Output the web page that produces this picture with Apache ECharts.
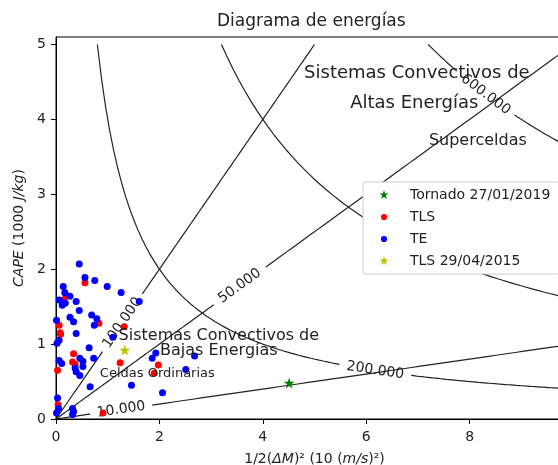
<!DOCTYPE html>
<html>
<head>
<meta charset="utf-8">
<script src="https://cdn.jsdelivr.net/npm/echarts@6/dist/echarts.min.js"></script>
<style>
  html, body { margin: 0; padding: 0; background: #fff; }
  #chart { width: 558px; height: 465px; }
</style>
</head>
<body>
<div id="chart"></div>
<script>
// ---- data ----
const tornado = [[4.51, 0.48]];
const tls2015 = [[1.33, 0.92]];

const tls = [
    [0.56, 1.82], [0.19, 1.66], [0.15, 1.59], [0.06, 1.25], [0.08, 1.15], [0.09, 1.13],
    [0.83, 1.28], [1.32, 1.23], [0.34, 0.87], [0.32, 0.76], [0.37, 0.73], [0.03, 0.65],
    [1.24, 0.75], [1.98, 0.72], [1.90, 0.61], [0.04, 0.19], [0.91, 0.08]
];

const te = [
    [0.45, 2.07], [0.56, 1.89], [0.75, 1.85], [0.99, 1.77], [1.26, 1.69], [1.61, 1.57],
    [0.14, 1.77], [0.17, 1.69], [0.27, 1.64], [0.06, 1.59], [0.14, 1.54], [0.12, 1.52],
    [0.18, 1.55], [0.39, 1.57], [0.45, 1.45], [0.27, 1.36], [0.34, 1.30], [0.69, 1.39],
    [0.79, 1.34], [0.74, 1.25], [0.39, 1.14], [0.01, 1.32], [0.06, 1.05], [0.02, 1.01],
    [1.10, 1.09], [0.64, 0.95], [0.73, 0.81], [0.46, 0.81], [0.52, 0.77], [0.06, 0.78],
    [0.11, 0.74], [0.37, 0.68], [0.39, 0.63], [0.52, 0.70], [0.46, 0.58], [0.66, 0.43],
    [0.03, 0.28], [0.05, 0.14], [0.32, 0.14], [0.34, 0.10], [0.32, 0.06], [0.01, 0.08],
    [1.93, 0.88], [1.86, 0.81], [2.68, 0.84], [2.51, 0.66], [2.06, 0.35], [1.46, 0.45]
];

// contour levels: straight lines CAPE/shear, hyperbolas sqrt(CAPE*shear)
const ratioLevels = [10000, 50000, 100000];
const energyLevels = [200000, 400000, 600000];

const xTicks = [0, 2, 4, 6, 8, 10];
const yTicks = [0, 1, 2, 3, 4, 5];

// ---- layout / style ----
const FONT = 'DejaVu Sans';
const INK = '#222';
const GRID = { left: 56, top: 37, width: 517, height: 382 };
const X_MAX = 10, Y_MAX = 5.1, DOMAIN_Y = 5;
const pxPerX = GRID.width / X_MAX;
const pxPerY = GRID.height / Y_MAX;

// where the inline labels break each contour (x range of the gap)
const labelGaps = {
    10000: [0.66, 1.86],
    50000: [3.05, 4.06],
    100000: [0.90, 1.67],
    200000: [5.48, 6.87],
    600000: [7.75, 8.87]
};

const STAR = 'path://M50,0 L61.2,34.6 L97.6,34.5 L68.1,55.9 L79.4,90.5 L50,69 L20.6,90.5 L31.9,55.9 L2.4,34.5 L38.8,34.6 Z';
const STAR_ICON = 'path://M-20,-20 M120,120 M50,0 L61.2,34.6 L97.6,34.5 L68.1,55.9 L79.4,90.5 L50,69 L20.6,90.5 L31.9,55.9 L2.4,34.5 L38.8,34.6 Z';
const DOT_ICON = 'path://M0,0 M100,100 M50,28 A22,22 0 1 1 50,72 A22,22 0 1 1 50,28 Z';

function fmtLevel(v) {
    return String(v).replace(/\B(?=(\d{3})+(?!\d))/g, '.');
}

// build contour curves
const contours = [];
ratioLevels.forEach(level => {
    const r = level / 100000;
    contours.push({
        level: level,
        f: x => r * x,
        df: x => r,
        x0: 0,
        x1: Math.min(X_MAX, DOMAIN_Y / r)
    });
});
energyLevels.forEach(level => {
    const c = Math.pow(level / 100000, 2);
    contours.push({
        level: level,
        f: x => c / x,
        df: x => -c / (x * x),
        x0: c / DOMAIN_Y,
        x1: X_MAX
    });
});

function sample(c, a, b) {
    const pts = [];
    const n = 60;
    for (let i = 0; i <= n; i++) {
        const x = a + (b - a) * i / n;
        pts.push([x, c.f(x)]);
    }
    return pts;
}

const lineSeries = [];
const labelData = [];
contours.forEach(c => {
    const gap = labelGaps[c.level];
    const pieces = gap ? [[c.x0, gap[0]], [gap[1], c.x1]] : [[c.x0, c.x1]];
    pieces.forEach(p => {
        lineSeries.push({
            type: 'line',
            data: sample(c, p[0], p[1]),
            symbol: 'none',
            silent: true,
            z: 1,
            lineStyle: { color: INK, width: 1.2 }
        });
    });
    if (gap) {
        const xm = (gap[0] + gap[1]) / 2;
        const angle = Math.atan(c.df(xm) * pxPerY / pxPerX) * 180 / Math.PI;
        labelData.push({
            value: [xm, c.f(xm)],
            label: { formatter: fmtLevel(c.level), rotate: angle }
        });
    }
});

// free text in the diagram
const notes = [
    { text: 'Sistemas Convectivos de', at: [6.98, 4.61], size: 18 },
    { text: 'Altas Energías', at: [6.93, 4.21], size: 18 },
    { text: 'Superceldas', at: [8.16, 3.72], size: 16 },
    { text: 'Sistemas Convectivos de', at: [3.15, 1.11], size: 16 },
    { text: 'Bajas Energías', at: [3.15, 0.91], size: 16 },
    { text: 'Celdas Ordinarias', at: [1.96, 0.61], size: 13 }
];

const chart = echarts.init(document.getElementById('chart'));

const option = {
    animation: false,
    title: {
        text: 'Diagrama de energías',
        left: 217,
        top: 13,
        padding: 0,
        textStyle: { fontFamily: FONT, fontSize: 17, fontWeight: 'normal', color: INK }
    },
    legend: {
        orient: 'vertical',
        left: 363,
        top: 182,
        padding: [6, 10, 6, 14],
        itemWidth: 42,
        itemHeight: 14,
        itemGap: 8,
        selectedMode: false,
        backgroundColor: '#fff',
        borderColor: '#ccc',
        borderWidth: 1,
        borderRadius: 3,
        textStyle: { fontFamily: FONT, fontSize: 14, color: INK },
        data: [
            { name: 'Tornado 27/01/2019', icon: STAR_ICON },
            { name: 'TLS', icon: DOT_ICON },
            { name: 'TE', icon: DOT_ICON },
            { name: 'TLS 29/04/2015', icon: STAR_ICON }
        ]
    },
    grid: {
        left: GRID.left, top: GRID.top, width: GRID.width, height: GRID.height,
        outerBoundsMode: 'none',
        containLabel: false,
        show: true, borderColor: '#000', borderWidth: 1
    },
    xAxis: {
        type: 'value',
        min: 0, max: X_MAX,
        name: '1/2({i|ΔM})² (10 ({i|m/s})²)',
        nameLocation: 'middle',
        nameGap: 33,
        nameTextStyle: {
            fontFamily: FONT, fontSize: 14, color: INK,
            rich: { i: { fontFamily: FONT, fontSize: 14, color: INK, fontStyle: 'italic' } }
        },
        axisLine: { lineStyle: { color: '#000', width: 1 } },
        axisTick: { length: 5, lineStyle: { color: '#000' }, customValues: xTicks },
        axisLabel: { fontFamily: FONT, fontSize: 14, color: INK, margin: 11, customValues: xTicks },
        splitLine: { show: false }
    },
    yAxis: {
        type: 'value',
        min: 0, max: Y_MAX,
        name: '{i|CAPE} (1000 {i|J/kg})',
        nameLocation: 'middle',
        nameGap: 29,
        nameRotate: 90,
        nameTextStyle: {
            fontFamily: FONT, fontSize: 14, color: INK,
            rich: { i: { fontFamily: FONT, fontSize: 14, color: INK, fontStyle: 'italic' } }
        },
        axisLine: { lineStyle: { color: '#000', width: 1 } },
        axisTick: { length: 5, lineStyle: { color: '#000' }, customValues: yTicks },
        axisLabel: { fontFamily: FONT, fontSize: 14, color: INK, margin: 10, customValues: yTicks },
        splitLine: { show: false }
    },
    series: lineSeries.concat([
        {
            type: 'scatter',
            data: labelData,
            symbolSize: 0,
            silent: true,
            z: 2,
            itemStyle: { opacity: 1 },
            label: { show: true, position: 'inside', fontFamily: FONT, fontSize: 14, color: INK }
        },
        {
            name: 'Tornado 27/01/2019',
            type: 'scatter',
            data: tornado,
            symbol: STAR,
            symbolSize: 11,
            itemStyle: { color: '#008000', opacity: 1 },
            z: 4
        },
        {
            name: 'TLS',
            type: 'scatter',
            data: tls,
            symbol: 'circle',
            symbolSize: 7,
            itemStyle: { color: '#ff0000', opacity: 1 },
            z: 4
        },
        {
            name: 'TE',
            type: 'scatter',
            data: te,
            symbol: 'circle',
            symbolSize: 7,
            itemStyle: { color: '#0000ff', opacity: 1 },
            z: 5
        },
        {
            name: 'TLS 29/04/2015',
            type: 'scatter',
            data: tls2015,
            symbol: STAR,
            symbolSize: 11,
            itemStyle: { color: '#bfbf00', opacity: 1 },
            z: 6
        },
        {
            type: 'scatter',
            symbolSize: 0,
            silent: true,
            z: 8,
            itemStyle: { opacity: 1 },
            data: notes.map(n => ({
                value: n.at,
                label: { formatter: n.text, fontSize: n.size }
            })),
            label: { show: true, position: 'inside', fontFamily: FONT, color: INK }
        }
    ])
};

chart.setOption(option);
</script>
</body>
</html>
